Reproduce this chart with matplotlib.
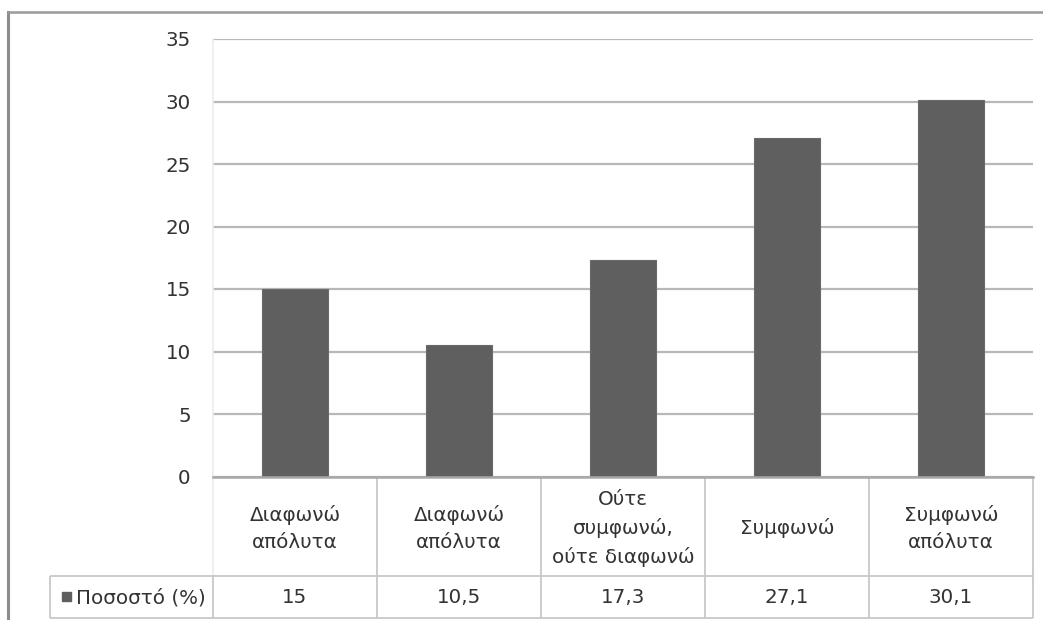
import matplotlib
matplotlib.use("Agg")
import matplotlib.pyplot as plt
from matplotlib.lines import Line2D
from matplotlib.patches import Rectangle

# Survey responses and their share of answers (%)
categories = ["Διαφωνώ\nαπόλυτα", "Διαφωνώ\nαπόλυτα", "Ούτε\nσυμφωνώ,\nούτε διαφωνώ",
              "Συμφωνώ", "Συμφωνώ\nαπόλυτα"]
values = [15, 10.5, 17.3, 27.1, 30.1]
value_labels = ["15", "10,5", "17,3", "27,1", "30,1"]
series_name = "Ποσοστό (%)"
y_ticks = [0, 5, 10, 15, 20, 25, 30, 35]

W, H = 1043, 620
BAR = "#5f5f5f"
GRID = "#b8b8b8"
CELL = "#c4c4c4"
TEXT = "#333333"
FONT = "DejaVu Sans"
FS = 14.3

plt.rcParams["font.family"] = [FONT]
fig = plt.figure(figsize=(W / 100, H / 100), dpi=100)
fig.patch.set_facecolor("white")

# plot area in pixel layout
px_left, px_right, px_top, px_bottom = 213, 1033, 39, 476.5
ax = fig.add_axes([px_left / W, (H - px_bottom) / H,
                   (px_right - px_left) / W, (px_bottom - px_top) / H])
x = list(range(len(values)))
ax.bar(x, values, width=0.4, color=BAR, edgecolor="#6a6a6a", linewidth=0.8, zorder=3)
ax.set_xlim(-0.5, len(values) - 0.5)
ax.set_ylim(0, 35)
ax.set_yticks(y_ticks)
ax.set_yticklabels([str(t) for t in y_ticks], fontsize=FS, color=TEXT)
ax.tick_params(axis="y", length=0, pad=16)
ax.set_xticks([])
ax.grid(axis="y", color=GRID, linewidth=1.6, zorder=0)
for side in ["top", "right", "bottom"]:
    ax.spines[side].set_visible(False)
ax.spines["left"].set_color("#ececec")
ax.spines["left"].set_linewidth(1.2)

# data table below the plot, sharing the category positions
tab_top, tab_mid, tab_bot = 476.5, 576, 617.5
tab = fig.add_axes([px_left / W, (H - tab_bot) / H,
                    (px_right - px_left) / W, (tab_bot - tab_top) / H])
tab.set_xlim(ax.get_xlim())
tab.set_ylim(tab_bot, tab_top)
tab.axis("off")

cell_w = (px_right - px_left) / len(values)
legend_left = -0.5 - (px_left - 50) / cell_w

kw = dict(color=CELL, linewidth=1.2, clip_on=False, solid_capstyle="butt")
for i in range(len(values) + 1):
    xi = i - 0.5
    c = "#ececec" if i == 0 else CELL
    tab.plot([xi, xi], [tab_top, tab_mid], **{**kw, "color": c})
    tab.plot([xi, xi], [tab_mid, tab_bot], **kw)
tab.plot([legend_left, len(values) - 0.5], [tab_mid, tab_mid], **kw)
tab.plot([legend_left, len(values) - 0.5], [tab_bot, tab_bot], **kw)
tab.plot([legend_left, legend_left], [tab_mid, tab_bot], **kw)
tab.plot([-0.5, len(values) - 0.5], [tab_top, tab_top], color="#a8a8a8",
         linewidth=1.8, clip_on=False)

for xi, cat, lab in zip(x, categories, value_labels):
    tab.text(xi, (tab_top + tab_mid) / 2 + 2, cat, ha="center", va="center",
             fontsize=FS, color=TEXT, linespacing=1.55)
    tab.text(xi, (tab_mid + tab_bot) / 2 + 1, lab, ha="center", va="center",
             fontsize=FS, color=TEXT)

# legend key in the row header
sq = 9 / cell_w
tab.add_patch(Rectangle((legend_left + 12 / cell_w, (tab_mid + tab_bot) / 2 + 4.5),
                        sq, -9, color=BAR, clip_on=False))
tab.text(legend_left + 26 / cell_w, (tab_mid + tab_bot) / 2 + 1, series_name,
         ha="left", va="center", fontsize=FS, color=TEXT)

# chart frame (left and top edges)
fig.add_artist(Line2D([8 / W, 8 / W], [0, (H - 12) / H], color="#8c8c8c",
                      linewidth=2.2, transform=fig.transFigure))
fig.add_artist(Line2D([8 / W, 1], [(H - 12) / H, (H - 12) / H], color="#9a9a9a",
                      linewidth=1.8, transform=fig.transFigure))

fig.savefig("out.png", dpi=100, facecolor="white")
